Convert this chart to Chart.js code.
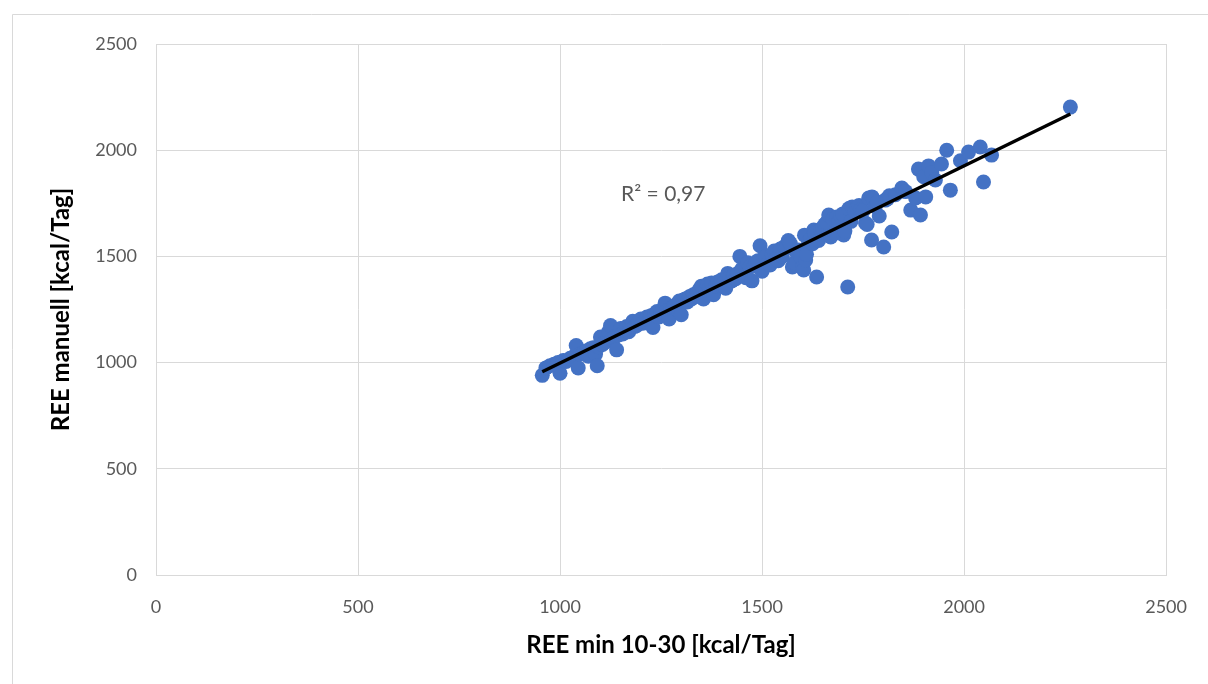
<!DOCTYPE html>
<html>
<head>
<meta charset="utf-8">
<script src="https://cdn.jsdelivr.net/npm/chart.js@4.4.1/dist/chart.umd.min.js"></script>
<style>
  html, body { margin: 0; padding: 0; background: #fff; }
  #wrap { width: 1208px; height: 684px; position: relative; }
</style>
</head>
<body>
<div id="wrap"><canvas id="ree" width="1208" height="684"></canvas></div>
<script>
// REE min 10-30 (x) vs. REE manuell (y), kcal/Tag
var reeMin = [956, 965, 975, 985, 995, 1000, 1008, 1015, 1025, 1035, 1040, 1045, 1050, 1058, 1065, 1070, 1075, 1082, 1088, 1092,
    1095, 1100, 1105, 1110, 1115, 1120, 1125, 1128, 1135, 1140, 1145, 1150, 1155, 1160, 1165, 1170, 1175, 1180, 1185, 1190,
    1195, 1200, 1205, 1210, 1215, 1220, 1225, 1230, 1235, 1240, 1245, 1250, 1255, 1260, 1265, 1270, 1275, 1280, 1285, 1290,
    1295, 1300, 1305, 1310, 1315, 1320, 1325, 1330, 1335, 1340, 1345, 1350, 1355, 1360, 1365, 1370, 1375, 1380, 1385, 1390,
    1395, 1400, 1405, 1410, 1415, 1420, 1425, 1430, 1435, 1440, 1445, 1450, 1455, 1460, 1465, 1470, 1475, 1480, 1485, 1490,
    1495, 1498, 1500, 1505, 1510, 1515, 1520, 1525, 1530, 1535, 1540, 1545, 1550, 1555, 1560, 1565, 1570, 1575, 1580, 1585,
    1590, 1595, 1600, 1603, 1605, 1608, 1610, 1615, 1620, 1625, 1628, 1630, 1635, 1640, 1645, 1650, 1655, 1660, 1665, 1670,
    1675, 1680, 1685, 1690, 1695, 1700, 1702, 1705, 1712, 1715, 1720, 1723, 1730, 1735, 1740, 1745, 1750, 1756, 1760, 1764,
    1771, 1772, 1775, 1780, 1785, 1790, 1801, 1805, 1810, 1815, 1821, 1830, 1846, 1855, 1868, 1880, 1887, 1892, 1900, 1905,
    1912, 1920, 1929, 1944, 1957, 1966, 1991, 2011, 2040, 2048, 2068, 2263];
var reeManuell = [940, 975, 985, 992, 1000, 950, 1010, 1005, 1020, 1030, 1080, 975, 1040, 1045, 1055, 1030, 1065, 1070, 1040, 985,
    1075, 1120, 1085, 1095, 1100, 1145, 1175, 1110, 1120, 1060, 1130, 1160, 1135, 1150, 1170, 1145, 1165, 1195, 1170, 1175,
    1190, 1205, 1185, 1195, 1215, 1200, 1220, 1165, 1230, 1240, 1215, 1235, 1250, 1280, 1245, 1205, 1255, 1260, 1270, 1250,
    1290, 1225, 1295, 1300, 1285, 1310, 1300, 1320, 1310, 1330, 1345, 1360, 1300, 1340, 1370, 1350, 1375, 1320, 1360, 1380,
    1365, 1390, 1375, 1350, 1420, 1400, 1385, 1410, 1395, 1420, 1500, 1440, 1410, 1400, 1470, 1450, 1385, 1455, 1470, 1480,
    1550, 1440, 1430, 1495, 1500, 1470, 1460, 1510, 1525, 1490, 1480, 1535, 1500, 1545, 1540, 1575, 1560, 1450, 1470, 1520,
    1530, 1500, 1450, 1436, 1600, 1483, 1510, 1570, 1580, 1560, 1624, 1610, 1403, 1575, 1625, 1635, 1650, 1660, 1695, 1591,
    1675, 1610, 1685, 1665, 1690, 1700, 1601, 1620, 1356, 1725, 1665, 1733, 1710, 1730, 1740, 1720, 1715, 1657, 1650, 1775,
    1577, 1780, 1770, 1735, 1755, 1690, 1544, 1765, 1770, 1785, 1615, 1790, 1822, 1805, 1718, 1775, 1911, 1695, 1875, 1780,
    1926, 1895, 1860, 1935, 2000, 1812, 1950, 1991, 2015, 1850, 1977, 2203];

var axisTicks = [0, 500, 1000, 1500, 2000, 2500];
var r2Label = 'R² = 0,97';
var r2At = [1151, 1794];

var points = reeMin.map(function (x, i) { return { x: x, y: reeManuell[i] }; });

// linear trend (least squares) over the measured pairs
var n = reeMin.length, sx = 0, sy = 0, sxx = 0, sxy = 0;
for (var i = 0; i < n; i++) {
    sx += reeMin[i]; sy += reeManuell[i];
    sxx += reeMin[i] * reeMin[i]; sxy += reeMin[i] * reeManuell[i];
}
var slope = (n * sxy - sx * sy) / (n * sxx - sx * sx);
var intercept = (sy - slope * sx) / n;
var xLo = Math.min.apply(null, reeMin), xHi = Math.max.apply(null, reeMin);
var trend = [{ x: xLo, y: slope * xLo + intercept }, { x: xHi, y: slope * xHi + intercept }];

var tickFont = { family: 'Lato', size: 18 };
var titleFont = { family: 'Lato', size: 24, weight: 'bold' };
var gridColor = '#d9d9d9';

var framePlugin = {
    id: 'frame',
    beforeDraw: function (chart) {
        var c = chart.ctx;
        c.save();
        c.fillStyle = '#fff';
        c.fillRect(0, 0, chart.width, chart.height);
        c.strokeStyle = gridColor;
        c.lineWidth = 1;
        c.beginPath();
        c.moveTo(12.5, chart.height);
        c.lineTo(12.5, 14.5);
        c.lineTo(chart.width, 14.5);
        c.stroke();
        c.restore();
    },
    afterDatasetsDraw: function (chart) {
        var c = chart.ctx;
        c.save();
        c.font = '21px Lato';
        c.fillStyle = '#595959';
        c.textBaseline = 'middle';
        c.fillText(r2Label, chart.scales.x.getPixelForValue(r2At[0]), chart.scales.y.getPixelForValue(r2At[1]));
        c.restore();
    }
};

function plain(v) { return String(v); }

var ctx = document.getElementById('ree').getContext('2d');
var reeChart = new Chart(ctx, {
    type: 'scatter',
    data: {
        datasets: [
            {
                label: 'REE',
                data: points,
                backgroundColor: '#4472c4',
                borderColor: '#4472c4',
                borderWidth: 0,
                pointRadius: 7.5,
                order: 1
            },
            {
                type: 'line',
                label: 'Trend',
                data: trend,
                borderColor: '#000',
                borderWidth: 3.5,
                pointRadius: 0,
                fill: false,
                order: 0
            }
        ]
    },
    options: {
        responsive: false,
        animation: false,
        layout: { padding: { top: 44, right: 38, left: 0, bottom: 0 } },
        plugins: { legend: { display: false }, tooltip: { enabled: false } },
        scales: {
            x: {
                type: 'linear',
                min: 0, max: 2500,
                afterFit: function (s) { s.height = 109; },
                afterBuildTicks: function (s) { s.ticks = axisTicks.map(function (v) { return { value: v }; }); },
                grid: { color: gridColor, drawTicks: false },
                border: { color: gridColor },
                ticks: { font: tickFont, color: '#595959', padding: 21, maxRotation: 0, callback: plain },
                title: { display: true, text: 'REE min 10-30 [kcal/Tag]', font: titleFont, color: '#000', padding: { bottom: 24 } }
            },
            y: {
                type: 'linear',
                min: 0, max: 2500,
                afterFit: function (s) { s.width = 156; },
                afterBuildTicks: function (s) { s.ticks = axisTicks.map(function (v) { return { value: v }; }); },
                grid: { color: gridColor, drawTicks: false },
                border: { color: gridColor },
                ticks: { font: tickFont, color: '#595959', padding: 19, callback: plain },
                title: { display: true, text: 'REE manuell [kcal/Tag]', font: titleFont, color: '#000', padding: { top: 47 } }
            }
        }
    },
    plugins: [framePlugin]
});
</script>
</body>
</html>
